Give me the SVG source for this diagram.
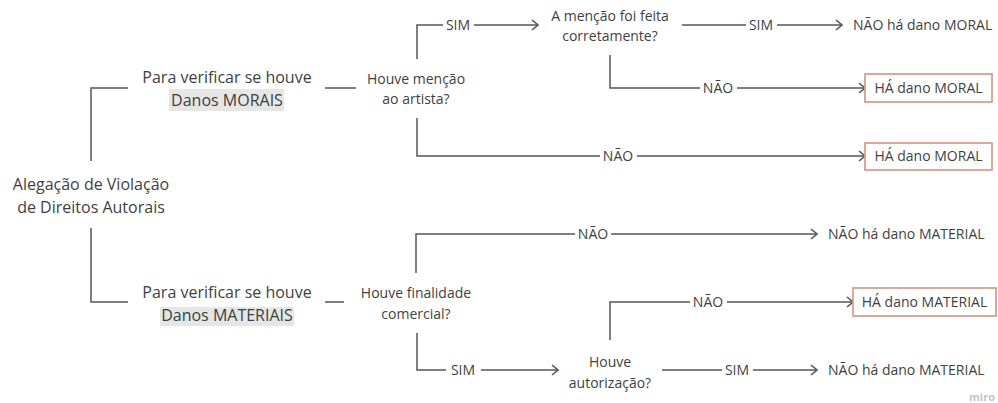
<svg xmlns="http://www.w3.org/2000/svg" width="998" height="403" viewBox="0 0 998 403">
<style>
text{font-family:"Open Sans","Liberation Sans",sans-serif;fill:#3f3f3f}
.t16{font-size:16px;text-anchor:middle}
.t14{font-size:14px;text-anchor:middle}
.l14{font-size:14px;text-anchor:start}
.ln{fill:none;stroke:#555;stroke-width:1.5}
.ar{marker-end:url(#arr)}
.box{fill:#fff;stroke:#d8a08e;stroke-width:1.8}
.hl{fill:#e6e6e6}
</style>
<defs>
<marker id="arr" viewBox="0 0 10 12" refX="9" refY="6" markerWidth="10" markerHeight="12" markerUnits="userSpaceOnUse" orient="auto">
<path d="M3,1 L9,6 L3,11" fill="none" stroke="#555" stroke-width="1.5"/>
</marker>
</defs>
<rect width="998" height="403" fill="#fff"/>
<g id="connectors">
<path class="ln" d="M91,161 V88 H128"/>
<path class="ln" d="M91,228 V302 H128"/>
<path class="ln" d="M325,88 H356"/>
<path class="ln" d="M417,59 V25 H443"/>
<path class="ln ar" d="M474,25 H538"/>
<path class="ln" d="M682,25 H746"/>
<path class="ln ar" d="M777,25 H842"/>
<path class="ln" d="M610,55 V88 H700"/>
<path class="ln ar" d="M737,88 H865"/>
<path class="ln" d="M417,118 V156 H600"/>
<path class="ln ar" d="M637,156 H865"/>
<path class="ln" d="M325,302 H344"/>
<path class="ln" d="M416,273 V234 H575"/>
<path class="ln ar" d="M611,234 H817"/>
<path class="ln" d="M610,340 V302 H690"/>
<path class="ln ar" d="M727,302 H853"/>
<path class="ln" d="M417,333 V370 H446"/>
<path class="ln ar" d="M481,370 H558"/>
<path class="ln" d="M662,370 H722"/>
<path class="ln ar" d="M753,370 H817"/>
<text class="t14" x="458" y="30">SIM</text>
<text class="t14" x="761" y="30">SIM</text>
<text class="t14" x="718" y="93">NÃO</text>
<text class="t14" x="618" y="161">NÃO</text>
<text class="t14" x="593" y="239">NÃO</text>
<text class="t14" x="708" y="307">NÃO</text>
<text class="t14" x="463" y="375">SIM</text>
<text class="t14" x="737" y="375">SIM</text>
</g>
<g id="root">
<text class="t16" x="91" y="190">Alegação de Violação</text>
<text class="t16" x="91" y="213">de Direitos Autorais</text>
</g>
<g id="morais">
<rect class="hl" x="169" y="89" width="115" height="22"/>
<text class="t16" x="227" y="83">Para verificar se houve</text>
<text class="t16" x="227" y="106">Danos MORAIS</text>
</g>
<g id="q-mencao">
<text class="t14" x="416" y="84">Houve menção</text>
<text class="t14" x="416" y="104">ao artista?</text>
</g>
<g id="q-correta">
<text class="t14" x="610" y="21">A menção foi feita</text>
<text class="t14" x="610" y="41">corretamente?</text>
</g>
<g id="r-nao-moral">
<text class="l14" x="853" y="30">NÃO há dano MORAL</text>
</g>
<g id="r-moral-1">
<rect class="box" x="865" y="74" width="127" height="28"/>
<text class="t14" x="928.5" y="93">HÁ dano MORAL</text>
</g>
<g id="r-moral-2">
<rect class="box" x="865" y="143" width="127" height="27"/>
<text class="t14" x="928.5" y="161">HÁ dano MORAL</text>
</g>
<g id="materiais">
<rect class="hl" x="160" y="307" width="134" height="19"/>
<text class="t16" x="227" y="298">Para verificar se houve</text>
<text class="t16" x="227" y="321">Danos MATERIAIS</text>
</g>
<g id="q-comercial">
<text class="t14" x="416" y="298">Houve finalidade</text>
<text class="t14" x="416" y="319">comercial?</text>
</g>
<g id="q-autorizacao">
<text class="t14" x="610" y="367">Houve</text>
<text class="t14" x="610" y="388">autorização?</text>
</g>
<g id="r-nao-material-1">
<text class="l14" x="828" y="239">NÃO há dano MATERIAL</text>
</g>
<g id="r-material">
<rect class="box" x="853" y="288" width="143" height="28"/>
<text class="t14" x="924.5" y="307">HÁ dano MATERIAL</text>
</g>
<g id="r-nao-material-2">
<text class="l14" x="828" y="375">NÃO há dano MATERIAL</text>
</g>
<text x="995" y="401" style="font-size:11px;font-weight:bold;fill:#c4c4c4;text-anchor:end">miro</text>
</svg>
